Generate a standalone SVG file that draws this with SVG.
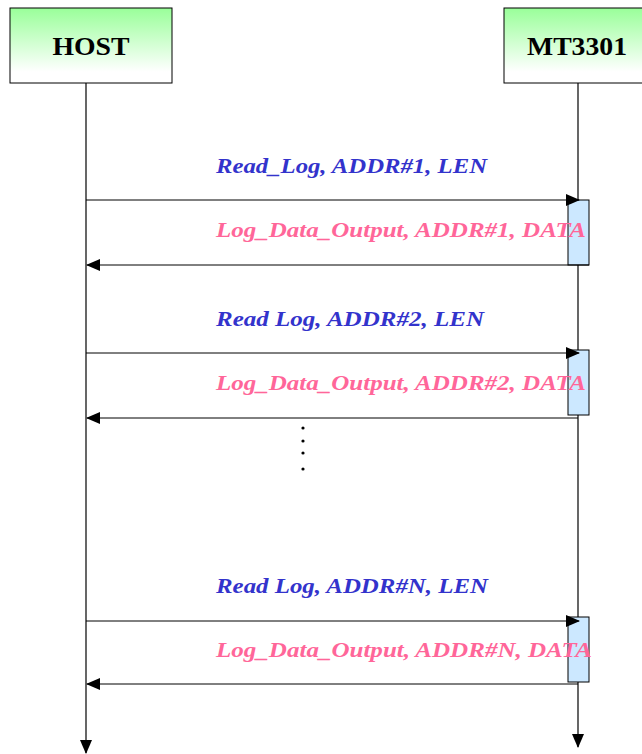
<svg xmlns="http://www.w3.org/2000/svg" width="642" height="754" viewBox="0 0 642 754">
<style>
.hdr{font-family:"Liberation Serif",serif;font-weight:bold;font-size:26px;fill:#000;text-anchor:middle}
.req{font-family:"Liberation Serif",serif;font-weight:bold;font-style:italic;font-size:22px;fill:#3333cc}
.rsp{font-family:"Liberation Serif",serif;font-weight:bold;font-style:italic;font-size:22px;fill:#ff6699}
.life{stroke:#000;stroke-width:1.2;fill:none}
.msg{stroke:#000;stroke-width:1;fill:none}
.act{fill:#cce8ff;stroke:#000;stroke-width:1}
.box{stroke:#000;stroke-width:1;fill:url(#g)}
</style>
<defs>
<linearGradient id="g" x1="0" y1="0" x2="0" y2="1">
<stop offset="0" stop-color="#99ff99"/>
<stop offset="0.85" stop-color="#ffffff"/>
</linearGradient>
<marker id="ah" markerWidth="14" markerHeight="12" refX="13" refY="6" orient="auto" markerUnits="userSpaceOnUse">
<path d="M0,0 L14,6 L0,12 Z" fill="#000"/>
</marker>
</defs>
<rect width="642" height="754" fill="#fff"/>
<g id="host">
<rect class="box" x="10" y="8" width="162" height="75"/>
<text class="hdr" x="91" y="55" textLength="77" lengthAdjust="spacingAndGlyphs">HOST</text>
</g>
<g id="mt3301">
<rect class="box" x="504" y="8" width="148" height="75"/>
<text class="hdr" x="577" y="55" textLength="100" lengthAdjust="spacingAndGlyphs">MT3301</text>
</g>
<g id="connectors">
<line class="life" x1="86" y1="83" x2="86" y2="753" marker-end="url(#ah)"/>
<line class="life" x1="578" y1="83" x2="578" y2="747" marker-end="url(#ah)"/>
<rect class="act" x="568" y="200" width="21" height="65"/>
<rect class="act" x="568" y="350" width="21" height="65"/>
<rect class="act" x="568" y="617" width="21" height="65"/>
<line class="msg" x1="86" y1="200" x2="579" y2="200" marker-end="url(#ah)"/>
<line class="msg" x1="589" y1="265" x2="87" y2="265" marker-end="url(#ah)"/>
<line class="msg" x1="86" y1="353" x2="579" y2="353" marker-end="url(#ah)"/>
<line class="msg" x1="578" y1="418" x2="87" y2="418" marker-end="url(#ah)"/>
<line class="msg" x1="86" y1="621" x2="579" y2="621" marker-end="url(#ah)"/>
<line class="msg" x1="578" y1="684" x2="87" y2="684" marker-end="url(#ah)"/>
</g>
<g id="labels">
<text class="req" x="216" y="173" textLength="271" lengthAdjust="spacingAndGlyphs">Read_Log, ADDR#1, LEN</text>
<text class="rsp" x="216" y="237" textLength="370" lengthAdjust="spacingAndGlyphs">Log_Data_Output, ADDR#1, DATA</text>
<text class="req" x="216" y="326" textLength="268" lengthAdjust="spacingAndGlyphs">Read Log, ADDR#2, LEN</text>
<text class="rsp" x="216" y="390" textLength="370" lengthAdjust="spacingAndGlyphs">Log_Data_Output, ADDR#2, DATA</text>
<text class="req" x="216" y="593" textLength="272" lengthAdjust="spacingAndGlyphs">Read Log, ADDR#N, LEN</text>
<text class="rsp" x="216" y="657" textLength="376" lengthAdjust="spacingAndGlyphs">Log_Data_Output, ADDR#N, DATA</text>
</g>
<g id="dots" fill="#000">
<circle cx="303" cy="428" r="1.6"/>
<circle cx="303" cy="441" r="1.6"/>
<circle cx="303" cy="453" r="1.6"/>
<circle cx="303" cy="469" r="1.6"/>
</g>
</svg>
